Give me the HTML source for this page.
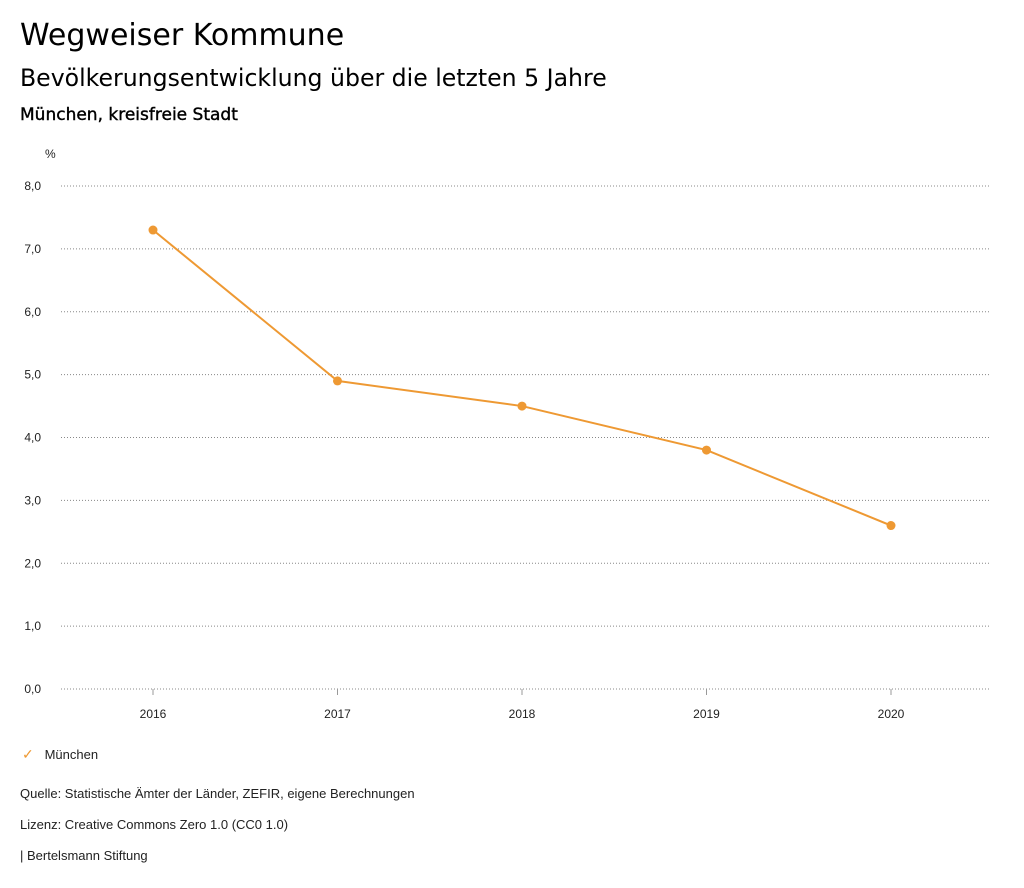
<!DOCTYPE html>
<html><head><meta charset="utf-8"><style>
body{margin:0;background:#fff;width:1024px;height:888px;overflow:hidden;font-family:"DejaVu Sans","Liberation Sans",sans-serif;color:#000}
.t{position:absolute;white-space:nowrap}
.s{font-family:"Liberation Sans",sans-serif;font-size:13px;color:#222}
</style></head><body>
<div class="t" style="left:20px;top:18px;font-size:30px">Wegweiser Kommune</div>
<div class="t" style="left:20px;top:64px;font-size:23.6px">Bevölkerungsentwicklung über die letzten 5 Jahre</div>
<div class="t" style="left:20px;top:105px;font-size:17px;font-weight:normal;-webkit-text-stroke:0.4px #000">München, kreisfreie Stadt</div>
<svg id="chart" width="1024" height="888" style="position:absolute;left:0;top:0"></svg>
<div class="t s" style="left:22px;top:746px"><span style="color:#ee9933;font-size:14px">✓</span>&nbsp;&nbsp;&nbsp;München</div>
<div class="t s" style="left:20px;top:786px">Quelle: Statistische Ämter der Länder, ZEFIR, eigene Berechnungen</div>
<div class="t s" style="left:20px;top:817px">Lizenz: Creative Commons Zero 1.0 (CC0 1.0)</div>
<div class="t s" style="left:20px;top:848px">| Bertelsmann Stiftung</div>
<script>
const categories=["2016","2017","2018","2019","2020"];
const values=[7.3,4.9,4.5,3.8,2.6];
const yTicks=[0,1,2,3,4,5,6,7,8];
const yTickLabels=["0,0","1,0","2,0","3,0","4,0","5,0","6,0","7,0","8,0"];
const NS="http://www.w3.org/2000/svg";
const svg=document.getElementById('chart');
const y=v=>689-v*62.875;
const x=i=>153+i*184.5;
function mk(t,a,txt){const e=document.createElementNS(NS,t);for(const k in a)e.setAttribute(k,a[k]);if(txt!=null)e.textContent=txt;svg.appendChild(e);return e;}
const u=mk('text',{x:45,y:158,'font-size':12,'font-family':'Liberation Sans, sans-serif',fill:'#222'},'%');


yTicks.forEach((v,i)=>{
 const g=mk('line',{x1:61,x2:991,y1:y(v),y2:y(v),stroke:'#888','stroke-dasharray':'1,2','stroke-width':1});
 
 
 const l=mk('text',{x:41,y:y(v)+4,'text-anchor':'end','font-size':12,'font-family':'Liberation Sans, sans-serif',fill:'#222'},yTickLabels[i]);
 
 
});
categories.forEach((c,i)=>{
 const t=mk('line',{x1:x(i),x2:x(i),y1:689,y2:695,stroke:'#999'});
 
 
 const l=mk('text',{x:x(i),y:718,'text-anchor':'middle','font-size':12,'font-family':'Liberation Sans, sans-serif',fill:'#222'},c);
 
 
});
const p=mk('polyline',{points:values.map((v,i)=>x(i)+','+y(v)).join(' '),fill:'none',stroke:'#ee9933','stroke-width':2});


values.forEach((v,i)=>{
 const c=mk('circle',{cx:x(i),cy:y(v),r:4.5,fill:'#ee9933'});
 
 
});
</script>
</body></html>
